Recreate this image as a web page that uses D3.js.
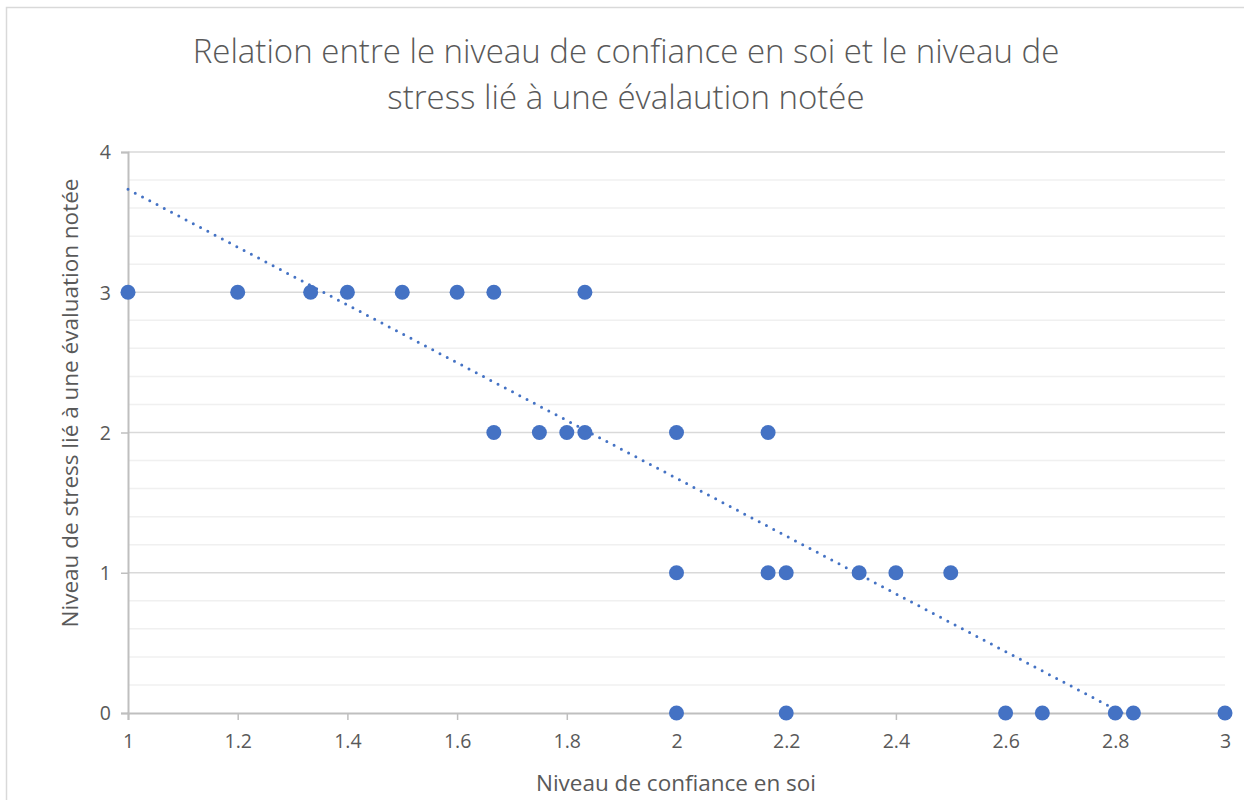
<!DOCTYPE html>
<html><head><meta charset="utf-8">
<script src="https://cdn.jsdelivr.net/npm/d3@7"></script>
<style>body{margin:0;background:#fff;} svg{display:block;}</style>
</head><body>
<svg id="c" width="1244" height="800"></svg>
<script>
const titleLines = ["Relation entre le niveau de confiance en soi et le niveau de", "stress lié à une évalaution notée"];
const xTitle = "Niveau de confiance en soi";
const yTitle = "Niveau de stress lié à une évaluation notée";
const xTicks = [1, 1.2, 1.4, 1.6, 1.8, 2, 2.2, 2.4, 2.6, 2.8, 3];
const yTicks = [0, 1, 2, 3, 4];
const yMinor = [0.2,0.4,0.6,0.8,1.2,1.4,1.6,1.8,2.2,2.4,2.6,2.8,3.2,3.4,3.6,3.8];
const confiance = [1, 1.2, 1.333, 1.4, 1.5, 1.6, 1.667, 1.833,
                   1.667, 1.75, 1.8, 1.833, 2, 2.167,
                   2, 2.167, 2.2, 2.333, 2.4, 2.5,
                   2, 2.2, 2.6, 2.667, 2.8, 2.833, 3];
const stress = [3,3,3,3,3,3,3,3,
                2,2,2,2,2,2,
                1,1,1,1,1,1,
                0,0,0,0,0,0,0];
const trendIntercept = 3.734; // value at x = 1
const trendSlope = -2.06;

const svg = d3.select("#c");
const m = {l:128, r:1225, t:152, b:713};
const x = d3.scaleLinear().domain([1,3]).range([m.l, m.r]);
const y = d3.scaleLinear().domain([0,4]).range([m.b, m.t]);

svg.append("rect").attr("x",6.5).attr("y",7.5).attr("width",1260).attr("height",820)
  .attr("fill","#fff").attr("stroke","#d9d9d9").attr("stroke-width",1.5);

const font = "'Open Sans', sans-serif";
// title
svg.append("g").selectAll("text").data(titleLines).join("text")
  .attr("x", 626).attr("y",(d,i)=>63+i*46)
  .attr("text-anchor","middle").attr("font-family",font).attr("font-weight",300)
  .attr("font-size",33).attr("fill","#595959").text(d=>d);

// minor grid
svg.append("g").selectAll("line").data(yMinor).join("line")
  .attr("x1",m.l).attr("x2",m.r).attr("y1",d=>y(d)).attr("y2",d=>y(d))
  .attr("stroke","#f0f0f0").attr("stroke-width",1.5);
// major grid
svg.append("g").selectAll("line").data(yTicks.filter(d=>d>0)).join("line")
  .attr("x1",m.l).attr("x2",m.r).attr("y1",d=>y(d)).attr("y2",d=>y(d))
  .attr("stroke","#d9d9d9").attr("stroke-width",1.5);

// axes
const xAxis = d3.axisBottom(x).tickValues(xTicks).tickSize(7).tickPadding(14).tickFormat(d3.format("~g"));
const gx = svg.append("g").attr("transform",`translate(0,${m.b})`).call(xAxis);
const yAxis = d3.axisLeft(y).tickValues(yTicks).tickSize(7).tickPadding(10).tickFormat(d3.format("d"));
const gy = svg.append("g").attr("transform",`translate(${m.l},0)`).call(yAxis);
[gx,gy].forEach(g=>{
  g.select(".domain").attr("stroke","#bfbfbf").attr("stroke-width",2);
  g.selectAll(".tick line").attr("stroke","#bfbfbf").attr("stroke-width",1.5);
  g.selectAll(".tick text").attr("font-family",font).attr("font-size",19.5).attr("fill","#595959");
});
gy.selectAll(".tick text").attr("dy","0.35em");

// axis titles
svg.append("text").attr("x",676).attr("y",791).attr("text-anchor","middle")
  .attr("font-family",font).attr("font-size",22.5).attr("fill","#595959").text(xTitle);
svg.append("text").attr("transform",`translate(78,403) rotate(-90)`).attr("text-anchor","middle")
  .attr("font-family",font).attr("font-size",22.5).attr("fill","#595959").text(yTitle);

// points
const pts = confiance.map((c,i)=>({x:c, y:stress[i]}));
svg.append("g").selectAll("circle").data(pts).join("circle")
  .attr("cx",d=>x(d.x)).attr("cy",d=>y(d.y)).attr("r",7.5).attr("fill","#4472C4");

// trendline (clipped to y >= 0)
const xEnd = 1 - trendIntercept/trendSlope;
const trend = [{x:1,y:trendIntercept},{x:xEnd,y:0}];
svg.append("path").datum(trend)
  .attr("d", d3.line().x(d=>x(d.x)).y(d=>y(d.y)))
  .attr("fill","none").attr("stroke","#4472C4").attr("stroke-width",3)
  .attr("stroke-linecap","round").attr("stroke-dasharray","0 8.2");
</script>
</body></html>
